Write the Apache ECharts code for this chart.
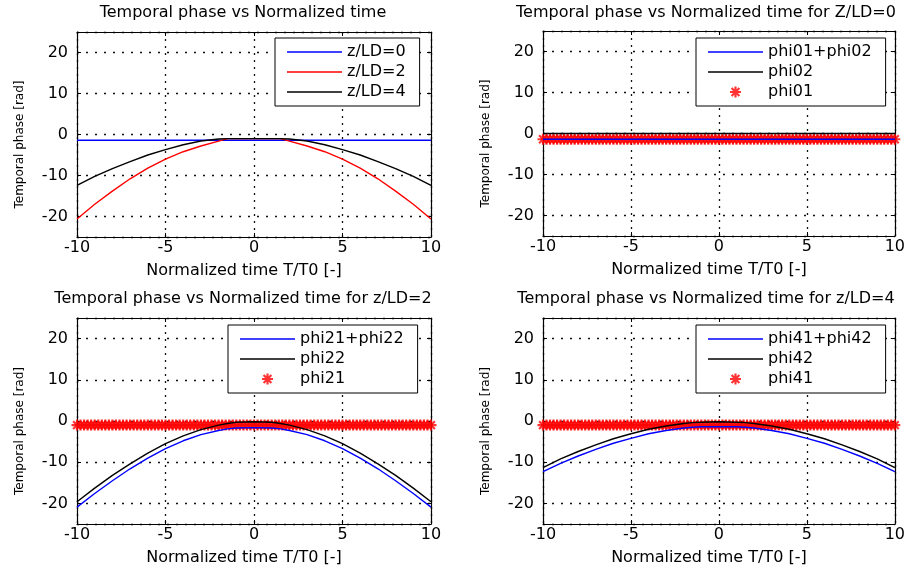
<!DOCTYPE html>
<html>
<head>
<meta charset="utf-8">
<script src="https://cdn.jsdelivr.net/npm/echarts@6/dist/echarts.min.js"></script>
<style>
  html, body { margin: 0; padding: 0; background: #ffffff; }
  #chart { width: 908px; height: 574px; }
</style>
</head>
<body>
<div id="chart"></div>
<script>
// Normalized time samples for the phase curves
const tCurve = [-10, -9, -8, -7, -6, -5, -4, -3, -2, -1.5, -1, 0, 1, 1.5, 2, 3, 4, 5, 6, 7, 8, 9, 10];

// Temporal phase [rad] at z/LD = 0, 2, 4
const phiZ0 = [-1.4, -1.4, -1.4, -1.4, -1.4, -1.4, -1.4, -1.4, -1.4, -1.4, -1.4, -1.4, -1.4, -1.4, -1.4, -1.4, -1.4, -1.4, -1.4, -1.4, -1.4, -1.4, -1.4];
const phiZ2 = [-20.6, -17.0, -13.8, -10.8, -8.2, -6.0, -4.2, -2.8, -1.6, -1.0, -1.0, -1.0, -1.0, -1.0, -1.6, -2.8, -4.2, -6.0, -8.2, -10.8, -13.8, -17.0, -20.6];
const phiZ4 = [-12.4, -10.2, -8.3, -6.6, -5.0, -3.7, -2.5, -1.6, -1.1, -1.0, -1.0, -1.0, -1.0, -1.0, -1.1, -1.6, -2.5, -3.7, -5.0, -6.6, -8.3, -10.2, -12.4];

// Phase components at z/LD = 0
const phi01p02 = [-1.4, -1.4, -1.4, -1.4, -1.4, -1.4, -1.4, -1.4, -1.4, -1.4, -1.4, -1.4, -1.4, -1.4, -1.4, -1.4, -1.4, -1.4, -1.4, -1.4, -1.4, -1.4, -1.4];
const phi02 = [0, 0, 0, 0, 0, 0, 0, 0, 0, 0, 0, 0, 0, 0, 0, 0, 0, 0, 0, 0, 0, 0, 0];

// Phase components at z/LD = 2
const phi21p22 = [-20.9, -17.6, -14.5, -11.6, -9.0, -6.7, -4.8, -3.3, -2.3, -1.9, -1.7, -1.6, -1.7, -1.9, -2.3, -3.3, -4.8, -6.7, -9.0, -11.6, -14.5, -17.6, -20.9];
const phi22 = [-19.6, -16.3, -13.2, -10.4, -7.8, -5.5, -3.6, -2.1, -1.0, -0.6, -0.3, -0.2, -0.3, -0.6, -1.0, -2.1, -3.6, -5.5, -7.8, -10.4, -13.2, -16.3, -19.6];

// Phase components at z/LD = 4
const phi41p42 = [-12.3, -10.3, -8.5, -6.9, -5.4, -4.2, -3.1, -2.3, -1.7, -1.5, -1.4, -1.4, -1.4, -1.5, -1.7, -2.3, -3.1, -4.2, -5.4, -6.9, -8.5, -10.3, -12.3];
const phi42 = [-11.3, -9.2, -7.4, -5.8, -4.3, -3.1, -2.0, -1.2, -0.6, -0.4, -0.3, -0.2, -0.3, -0.4, -0.6, -1.2, -2.0, -3.1, -4.3, -5.8, -7.4, -9.2, -11.3];

// Dense time samples for the constant phase term (plotted with markers)
const tStar = [
  -10, -9.8, -9.6, -9.4, -9.2, -9, -8.8, -8.6, -8.4, -8.2,
  -8, -7.8, -7.6, -7.4, -7.2, -7, -6.8, -6.6, -6.4, -6.2,
  -6, -5.8, -5.6, -5.4, -5.2, -5, -4.8, -4.6, -4.4, -4.2,
  -4, -3.8, -3.6, -3.4, -3.2, -3, -2.8, -2.6, -2.4, -2.2,
  -2, -1.8, -1.6, -1.4, -1.2, -1, -0.8, -0.6, -0.4, -0.2,
  0, 0.2, 0.4, 0.6, 0.8, 1, 1.2, 1.4, 1.6, 1.8,
  2, 2.2, 2.4, 2.6, 2.8, 3, 3.2, 3.4, 3.6, 3.8,
  4, 4.2, 4.4, 4.6, 4.8, 5, 5.2, 5.4, 5.6, 5.8,
  6, 6.2, 6.4, 6.6, 6.8, 7, 7.2, 7.4, 7.6, 7.8,
  8, 8.2, 8.4, 8.6, 8.8, 9, 9.2, 9.4, 9.6, 9.8,
  10
];
// phi01: constant phase term at z/LD = 0
const phi01 = [
  -1.4, -1.4, -1.4, -1.4, -1.4, -1.4, -1.4, -1.4, -1.4, -1.4,
  -1.4, -1.4, -1.4, -1.4, -1.4, -1.4, -1.4, -1.4, -1.4, -1.4,
  -1.4, -1.4, -1.4, -1.4, -1.4, -1.4, -1.4, -1.4, -1.4, -1.4,
  -1.4, -1.4, -1.4, -1.4, -1.4, -1.4, -1.4, -1.4, -1.4, -1.4,
  -1.4, -1.4, -1.4, -1.4, -1.4, -1.4, -1.4, -1.4, -1.4, -1.4,
  -1.4, -1.4, -1.4, -1.4, -1.4, -1.4, -1.4, -1.4, -1.4, -1.4,
  -1.4, -1.4, -1.4, -1.4, -1.4, -1.4, -1.4, -1.4, -1.4, -1.4,
  -1.4, -1.4, -1.4, -1.4, -1.4, -1.4, -1.4, -1.4, -1.4, -1.4,
  -1.4, -1.4, -1.4, -1.4, -1.4, -1.4, -1.4, -1.4, -1.4, -1.4,
  -1.4, -1.4, -1.4, -1.4, -1.4, -1.4, -1.4, -1.4, -1.4, -1.4,
  -1.4
];
// phi21 / phi41: constant phase term at z/LD = 2 and 4
const phiX1 = [
  -1.0, -1.0, -1.0, -1.0, -1.0, -1.0, -1.0, -1.0, -1.0, -1.0,
  -1.0, -1.0, -1.0, -1.0, -1.0, -1.0, -1.0, -1.0, -1.0, -1.0,
  -1.0, -1.0, -1.0, -1.0, -1.0, -1.0, -1.0, -1.0, -1.0, -1.0,
  -1.0, -1.0, -1.0, -1.0, -1.0, -1.0, -1.0, -1.0, -1.0, -1.0,
  -1.0, -1.0, -1.0, -1.0, -1.0, -1.0, -1.0, -1.0, -1.0, -1.0,
  -1.0, -1.0, -1.0, -1.0, -1.0, -1.0, -1.0, -1.0, -1.0, -1.0,
  -1.0, -1.0, -1.0, -1.0, -1.0, -1.0, -1.0, -1.0, -1.0, -1.0,
  -1.0, -1.0, -1.0, -1.0, -1.0, -1.0, -1.0, -1.0, -1.0, -1.0,
  -1.0, -1.0, -1.0, -1.0, -1.0, -1.0, -1.0, -1.0, -1.0, -1.0,
  -1.0, -1.0, -1.0, -1.0, -1.0, -1.0, -1.0, -1.0, -1.0, -1.0,
  -1.0
];

const xTicks = { min: -10, max: 10, step: 5 };
const yRange = { min: -25, max: 25, step: 10 };

const FONT = 'DejaVu Sans';
const BLUE = '#0000ff', RED = '#ff0000', BLACK = '#000000';
// Asterisk marker: plus sign overlaid with a diagonal cross (bold arms)
const STAR = 'path://M0,8H20V12H0Z M8,0H12V20H8Z M1.5,4.3L4.3,1.5L18.5,15.7L15.7,18.5Z M15.7,1.5L18.5,4.3L4.3,18.5L1.5,15.7Z';
// Legend sample for solid lines
const LINE_ICON = 'path://M0,0H55V1.5H0Z';

const panels = [
  {
    grid: { left: 77, top: 32, width: 354, height: 205 },
    title: 'Temporal phase vs Normalized time', titleX: 243, titleY: 4,
    legend: { left: 275, top: 38 },
    series: [
      { name: 'z/LD=0', kind: 'line', color: BLUE, t: tCurve, v: phiZ0 },
      { name: 'z/LD=2', kind: 'line', color: RED, t: tCurve, v: phiZ2 },
      { name: 'z/LD=4', kind: 'line', color: BLACK, t: tCurve, v: phiZ4 }
    ]
  },
  {
    grid: { left: 543, top: 31, width: 355, height: 205 },
    title: 'Temporal phase vs Normalized time for Z/LD=0', titleX: 706, titleY: 4,
    legend: { left: 696, top: 38 },
    series: [
      { name: 'phi01+phi02', kind: 'line', color: BLUE, t: tCurve, v: phi01p02 },
      { name: 'phi02', kind: 'line', color: BLACK, t: tCurve, v: phi02 },
      { name: 'phi01', kind: 'star', color: RED, t: tStar, v: phi01 }
    ]
  },
  {
    grid: { left: 77, top: 318, width: 354, height: 206 },
    title: 'Temporal phase vs Normalized time for z/LD=2', titleX: 243, titleY: 290,
    legend: { left: 228, top: 325 },
    series: [
      { name: 'phi21+phi22', kind: 'line', color: BLUE, t: tCurve, v: phi21p22 },
      { name: 'phi22', kind: 'line', color: BLACK, t: tCurve, v: phi22 },
      { name: 'phi21', kind: 'star', color: RED, t: tStar, v: phiX1 }
    ]
  },
  {
    grid: { left: 543, top: 318, width: 355, height: 206 },
    title: 'Temporal phase vs Normalized time for z/LD=4', titleX: 706, titleY: 290,
    legend: { left: 696, top: 325 },
    series: [
      { name: 'phi41+phi42', kind: 'line', color: BLUE, t: tCurve, v: phi41p42 },
      { name: 'phi42', kind: 'line', color: BLACK, t: tCurve, v: phi42 },
      { name: 'phi41', kind: 'star', color: RED, t: tStar, v: phiX1 }
    ]
  }
];

const textBase = { color: '#000', fontFamily: FONT, fontSize: 16, fontWeight: 'normal' };

const option = {
  animation: false,
  backgroundColor: '#ffffff',
  grid: [], title: [], legend: [], xAxis: [], yAxis: [], series: []
};

panels.forEach((p, i) => {
  option.grid.push(Object.assign({ containLabel: false }, p.grid));

  option.title.push({
    text: p.title, left: p.titleX, top: p.titleY, textAlign: 'center', padding: 0,
    textStyle: Object.assign({ lineHeight: 18 }, textBase)
  });

  option.legend.push({
    left: p.legend.left, top: p.legend.top, orient: 'vertical',
    selectedMode: false,
    itemWidth: 55, itemHeight: 11, itemGap: 0,
    padding: [4, 14, 4, 12],
    borderColor: '#000', borderWidth: 1, backgroundColor: '#fff',
    textStyle: Object.assign({ lineHeight: 20 }, textBase),
    data: p.series.map(s => ({ name: s.name, icon: s.kind === 'star' ? STAR : LINE_ICON }))
  });

  const tickStyle = { inside: true, length: 4, lineStyle: { color: '#000', width: 1 } };
  const edgeLine = { show: true, onZero: false, lineStyle: { color: '#000', width: 1.2 } };

  // bottom x axis with labels and vertical grid
  option.xAxis.push({
    gridIndex: i, type: 'value', position: 'bottom',
    min: xTicks.min, max: xTicks.max, interval: xTicks.step,
    axisLine: edgeLine, axisTick: tickStyle,
    axisLabel: Object.assign({ margin: 3 }, textBase),
    splitLine: { show: true, lineStyle: { color: '#111', width: 1.3, type: [2, 5] } },
    name: 'Normalized time T/T0 [-]', nameLocation: 'middle', nameGap: 26,
    nameTextStyle: Object.assign({ padding: [0, 20, 0, 0] }, textBase)
  });
  // top border with inner ticks
  option.xAxis.push({
    gridIndex: i, type: 'value', position: 'top',
    min: xTicks.min, max: xTicks.max, interval: xTicks.step,
    axisLine: edgeLine, axisTick: tickStyle,
    axisLabel: { show: false }, splitLine: { show: false }
  });
  // left y axis with labels and horizontal grid
  option.yAxis.push({
    gridIndex: i, type: 'value', position: 'left',
    min: yRange.min, max: yRange.max, minInterval: yRange.step, maxInterval: yRange.step,
    axisLine: edgeLine, axisTick: tickStyle,
    axisLabel: Object.assign({ margin: 9, showMinLabel: false, showMaxLabel: false }, textBase),
    splitLine: { show: true, lineStyle: { color: '#111', width: 1.3, type: [2, 7] } },
    name: 'Temporal phase [rad]', nameLocation: 'middle', nameGap: 51,
    nameTextStyle: Object.assign({}, textBase, { fontSize: 12, padding: [0, 20, 0, 0] })
  });
  // right border with inner ticks
  option.yAxis.push({
    gridIndex: i, type: 'value', position: 'right',
    min: yRange.min, max: yRange.max, minInterval: yRange.step, maxInterval: yRange.step,
    axisLine: edgeLine, axisTick: tickStyle,
    axisLabel: { show: false }, splitLine: { show: false }
  });

  p.series.forEach(s => {
    const data = s.t.map((t, k) => [t, s.v[k]]);
    if (s.kind === 'star') {
      option.series.push({
        name: s.name, type: 'scatter', xAxisIndex: 2 * i, yAxisIndex: 2 * i,
        symbol: STAR, symbolSize: 11, silent: true,
        itemStyle: { color: s.color },
        data
      });
    } else {
      option.series.push({
        name: s.name, type: 'line', xAxisIndex: 2 * i, yAxisIndex: 2 * i,
        symbol: 'none', silent: true,
        lineStyle: { color: s.color, width: 1.4 },
        itemStyle: { color: s.color },
        data
      });
    }
  });
});

const chart = echarts.init(document.getElementById('chart'), null, { renderer: 'canvas' });
chart.setOption(option);
</script>
</body>
</html>
